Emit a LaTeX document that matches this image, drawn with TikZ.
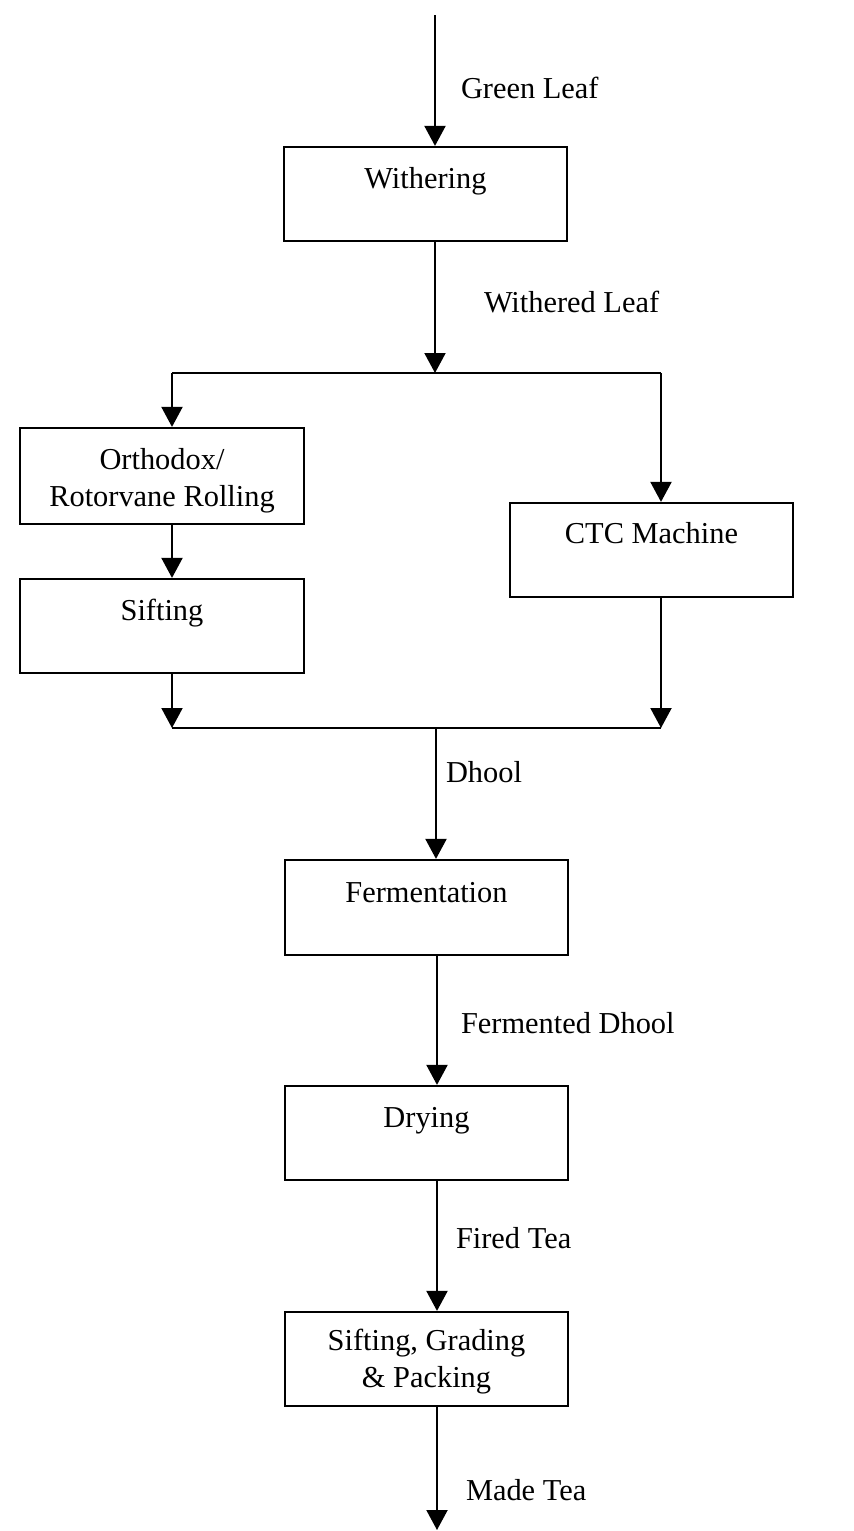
\documentclass[tikz,border=0pt]{standalone}
\usepackage{fontspec}
\setmainfont{Liberation Serif}
\usetikzlibrary{arrows.meta}
\begin{document}
\begin{tikzpicture}[x=0.5pt,y=-0.5pt,
  line width=1pt,
  box/.style={draw, line width=1.1pt, inner sep=0pt, minimum width=141.5pt, minimum height=47pt},
  txt/.style={inner sep=0pt, align=center, font=\fontsize{15.2}{18.5}\selectfont},
  onetxt/.style={txt, text height=10.5pt, text depth=3.3pt},
  lbl/.style={onetxt, anchor=west},
  arr/.style={-{Triangle[width=10.5pt,length=10pt]}}]
\useasboundingbox (0,0) rectangle (854,1531);

% boxes
\node[box] (with) at (425.5,194) {};
\node[box, minimum width=142pt, minimum height=48pt] (orth) at (162,476) {};
\node[box, minimum width=142pt] (sift) at (162,626) {};
\node[box] (ctc) at (651.5,550) {};
\node[box, minimum height=47.5pt] (ferm) at (426.5,907.5) {};
\node[box] (dry) at (426.5,1133) {};
\node[box] (pack) at (426.5,1359) {};

% box texts
\node[onetxt] (witht) at (425.5,181) {Withering};
\node[txt] (ortht) at (162,481) {Orthodox/\\Rotorvane Rolling};
\node[onetxt] (siftt) at (162,613) {Sifting};
\node[onetxt] (ctct) at (651.5,536) {CTC Machine};
\node[onetxt] (fermt) at (426.5,895) {Fermentation};
\node[onetxt] (dryt) at (426.5,1120) {Drying};
\node[txt] (packt) at (426.5,1362) {Sifting, Grading\\\& Packing};

% coordinates
\coordinate (top) at (435,15);
\coordinate (split) at (435,373);
\coordinate (jL) at (172,373);
\coordinate (jR) at (661,373);
\coordinate (mL) at (172,728);
\coordinate (mR) at (661,728);
\coordinate (merge) at (436,728);
\coordinate (sp) at (437,955);
\coordinate (endpt) at (437,1530);

% connectors
\draw[arr] (top) -- (top |- with.north);
\draw[arr] (with.south -| top) -- (split);
\draw (jL) -- (jR);
\draw[arr] (jL) -- (orth.north -| jL);
\draw[arr] (orth.south -| jL) -- (sift.north -| jL);
\draw[arr] (sift.south -| mL) -- (mL);
\draw[arr] (jR) -- (ctc.north -| jR);
\draw[arr] (ctc.south -| mR) -- (mR);
\draw (mL) -- (mR);
\draw[arr] (merge) -- (ferm.north -| merge);
\draw[arr] (ferm.south -| sp) -- (dry.north -| sp);
\draw[arr] (dry.south -| sp) -- (pack.north -| sp);
\draw[arr] (pack.south -| sp) -- (endpt);

% connector labels
\node[lbl] (l1) at (460,91) {Green Leaf};
\node[lbl] (l2) at (483,305) {Withered Leaf};
\node[lbl] (l3) at (445,775) {Dhool};
\node[lbl] (l4) at (460,1026) {Fermented Dhool};
\node[lbl] (l5) at (455,1241) {Fired Tea};
\node[lbl] (l6) at (465,1493) {Made Tea};
\end{tikzpicture}
\end{document}
